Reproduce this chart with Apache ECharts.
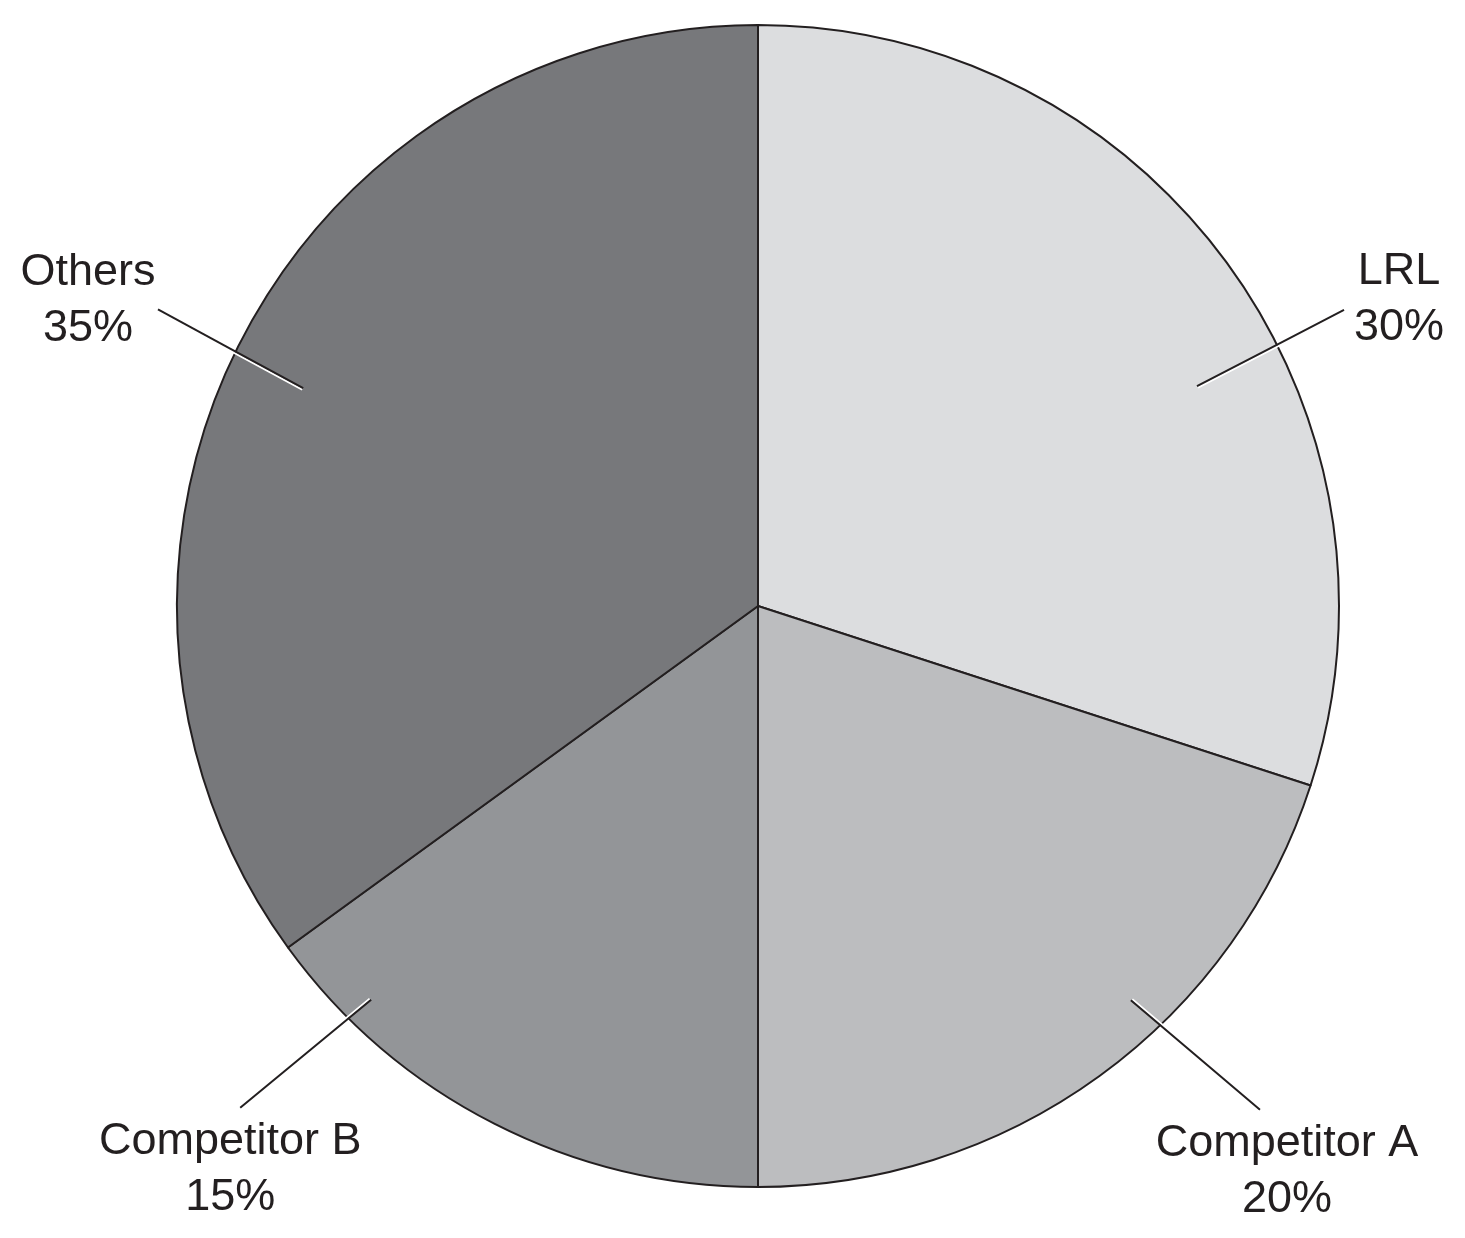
<!DOCTYPE html>
<html lang="en">
<head>
    <meta charset="UTF-8">
    <title>Market share</title>
    <script src="https://cdn.jsdelivr.net/npm/echarts@6/dist/echarts.min.js"></script>
    <style>
        html, body { margin: 0; padding: 0; background: #fff; }
    </style>
</head>
<body>
    <div id="main" style="width: 1465px;height:1238px;"></div>

    <script>
        // data
        const names = ["LRL", "Competitor A", "Competitor B", "Others"]
        const shares = [30, 20, 15, 35]

        // look
        const colors = ["#dcdddf", "#bcbdbf", "#939598", "#77787b"]
        const ink = "#231f20"
        const cx = 758, cy = 606, R = 581
        // label line: start/end as angle (deg from 12 o'clock, clockwise) + fraction of radius,
        // text centre offset from the line end, white edge offset
        const guides = [
            { a1: 63.4, r1: 0.845, a2: 63.2, r2: 1.13, tx: 55, ty: -10, sx: 1, sy: 1.5 },
            { a1: 136.6, r1: 0.934, a2: 135.1, r2: 1.224, tx: 27, ty: 62, sx: 1.5, sy: -1 },
            { a1: 224.5, r1: 0.95, a2: 225.9, r2: 1.241, tx: -10, ty: 62, sx: -1.5, sy: -1 },
            { a1: 295.6, r1: 0.868, a2: 296.3, r2: 1.152, tx: -70, ty: -9, sx: -1, sy: 1.5 }
        ]

        function polar(a, r) {
            const t = a * Math.PI / 180
            return [cx + R * r * Math.sin(t), cy - R * r * Math.cos(t)]
        }

        const mychart = echarts.init(document.getElementById("main"))

        const base = {
            type: "pie",
            center: [cx, cy],
            radius: R,
            startAngle: 90,
            clockwise: true,
            avoidLabelOverlap: false,
            silent: true
        }

        const option = {
            animation: false,
            backgroundColor: "#fff",
            series: [
                // the slices
                Object.assign({}, base, {
                    z: 2,
                    itemStyle: { borderColor: ink, borderWidth: 2 },
                    label: { show: false },
                    labelLine: { show: false },
                    data: names.map((n, i) => ({
                        name: n,
                        value: shares[i],
                        itemStyle: { color: colors[i] }
                    }))
                }),
                // same slices, transparent, only to carry labels and their lines on top
                Object.assign({}, base, {
                    z: 3,
                    itemStyle: { color: "rgba(0,0,0,0)", borderWidth: 0 },
                    label: {
                        show: true,
                        position: "outside",
                        formatter: "{b}\n{c}%",
                        color: ink,
                        fontFamily: "Liberation Sans, Arial, sans-serif",
                        fontSize: 45,
                        lineHeight: 56,
                        align: "center"
                    },
                    labelLine: {
                        show: true,
                        length: 20,
                        length2: 0,
                        lineStyle: { color: ink, width: 2 }
                    },
                    labelLayout: function (params) {
                        const g = guides[params.dataIndex]
                        const p1 = polar(g.a1, g.r1)
                        const p2 = polar(g.a2, g.r2)
                        const mid = [(p1[0] + p2[0]) / 2, (p1[1] + p2[1]) / 2]
                        return {
                            x: p2[0] + g.tx,
                            y: p2[1] + g.ty,
                            align: "center",
                            verticalAlign: "middle",
                            labelLinePoints: [p1, mid, p2]
                        }
                    },
                    data: names.map((n, i) => ({
                        name: n,
                        value: shares[i],
                        labelLine: {
                            lineStyle: {
                                color: ink,
                                width: 2,
                                shadowColor: "#ffffff",
                                shadowBlur: 0,
                                shadowOffsetX: guides[i].sx,
                                shadowOffsetY: guides[i].sy
                            }
                        }
                    }))
                })
            ]
        }
        mychart.setOption(option)
    </script>
</body>
</html>
